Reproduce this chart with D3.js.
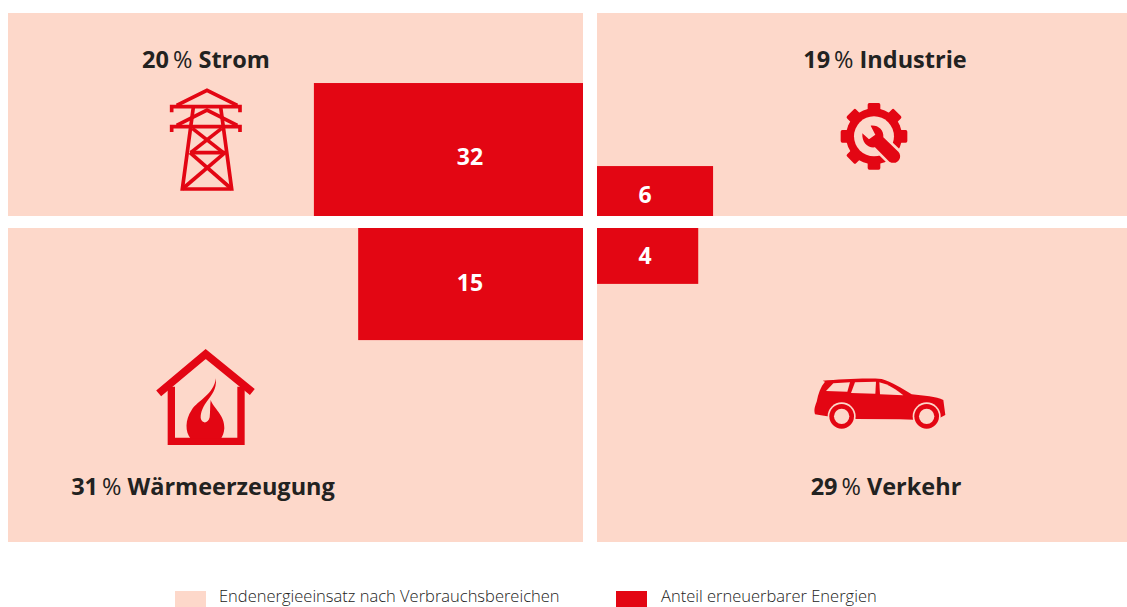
<!DOCTYPE html>
<html lang="de">
<head>
<meta charset="utf-8">
<title>Erneuerbare Energien nach Verbrauchsbereichen</title>
<script src="https://cdn.jsdelivr.net/npm/d3@7/dist/d3.min.js"></script>
<style>
  html, body { margin: 0; padding: 0; background: #fff; }
  svg { display: block; }
  text { font-family: "Open Sans", "Noto Sans", sans-serif; }
</style>
</head>
<body>
<svg id="chart" width="1127" height="607"></svg>
<script>
// Values
const sectors = ['Strom', 'Wärmeerzeugung', 'Industrie', 'Verkehr']
const energyShare = [20, 31, 19, 29]
const renewableShare = [32, 15, 6, 4]
// The red boxes follow no fixed ratio, so their sides are kept as % of the panel
const renewableWidth = [46.8, 39.1, 21.9, 19.1]
const renewableHeight = [65.5, 35.7, 24.6, 17.8]
const legendLabels = ['Endenergieeinsatz nach Verbrauchsbereichen', 'Anteil erneuerbarer Energien']

const pale = '#fdd8ca'
const red = '#e30613'
const dark = '#222221'

const svg = d3.select('#chart')

// Panels grow outwards from the cross in the middle
const xLeft = d3.scaleLinear().domain([0, 100]).range([583, 8])
const xRight = d3.scaleLinear().domain([0, 100]).range([597, 1127])
const yTop = d3.scaleLinear().domain([0, 100]).range([216, 13])
const yBottom = d3.scaleLinear().domain([0, 100]).range([228, 542])

const panels = sectors.map((name, i) => ({
  name,
  share: energyShare[i],
  renewable: renewableShare[i],
  barW: renewableWidth[i],
  barH: renewableHeight[i],
  x: i < 2 ? xLeft : xRight,
  y: i % 2 === 0 ? yTop : yBottom,
  labelX: [206, 203, 885, 886][i],
  labelY: [68, 495, 68, 495][i],
  numX: i < 2 ? 470 : 645,
  numY: [165, 291, 203, 264][i]
}))

function boxAttrs (sel, w, h) {
  sel
    .attr('x', (d) => Math.min(d.x(0), d.x(w(d))))
    .attr('y', (d) => Math.min(d.y(0), d.y(h(d))))
    .attr('width', (d) => Math.abs(d.x(w(d)) - d.x(0)))
    .attr('height', (d) => Math.abs(d.y(h(d)) - d.y(0)))
}

svg.append('g').selectAll('rect')
  .data(panels)
  .enter()
  .append('rect')
  .attr('fill', pale)
  .call(boxAttrs, () => 100, () => 100)

svg.append('g').selectAll('rect')
  .data(panels)
  .enter()
  .append('rect')
  .attr('fill', red)
  .call(boxAttrs, (d) => d.barW, (d) => d.barH)

svg.append('g').selectAll('text')
  .data(panels)
  .enter()
  .append('text')
  .attr('x', (d) => d.numX)
  .attr('y', (d) => d.numY)
  .attr('text-anchor', 'middle')
  .attr('fill', '#fff')
  .style('font-size', '23px')
  .style('font-weight', 700)
  .text((d) => d.renewable)

// Sector titles, the percent sign is lighter than the rest
const titles = svg.append('g').selectAll('text')
  .data(panels)
  .enter()
  .append('text')
  .attr('x', (d) => d.labelX)
  .attr('y', (d) => d.labelY)
  .attr('text-anchor', 'middle')
  .attr('fill', dark)
  .style('font-size', '23.5px')
  .style('font-weight', 700)

titles.append('tspan').text((d) => d.share + '\u2009')
titles.append('tspan').style('font-weight', 400).text('%')
titles.append('tspan').text((d) => ' ' + d.name)

// Icons, drawn in the coordinates of a 3x crop of the picture
const third = 'scale(0.33333)'

const tower = svg.append('g')
  .attr('transform', 'translate(130,30) ' + third)
  .attr('fill', 'none')
  .attr('stroke', red)
  .attr('stroke-width', 11)

const towerLines = [
  'M125 247V230H330V247',
  'M140 226L231 181L322 226',
  'M125 306V290H330V306',
  'M140 286L231 240L322 286',
  'M190 232L157 477H305L272 232',
  'M180 368H285',
  'M187 295L280 368',
  'M275 295L182 368',
  'M180 368L305 477',
  'M285 368L157 477'
]
tower.selectAll('path').data(towerLines).enter().append('path').attr('d', (d) => d)

const gear = svg.append('g').attr('transform', 'translate(800,40) ' + third)
const gearCentre = [222, 289]
const gearTeeth = d3.range(8).map((i) => i * 45)
gear.append('circle').attr('cx', gearCentre[0]).attr('cy', gearCentre[1]).attr('r', 84).attr('fill', red)
gear.selectAll('rect')
  .data(gearTeeth)
  .enter()
  .append('rect')
  .attr('x', gearCentre[0] - 19)
  .attr('y', gearCentre[1] - 100)
  .attr('width', 38)
  .attr('height', 40)
  .attr('rx', 5)
  .attr('fill', red)
  .attr('transform', (d) => `rotate(${d} ${gearCentre[0]} ${gearCentre[1]})`)
gear.append('circle').attr('cx', gearCentre[0]).attr('cy', gearCentre[1]).attr('r', 60).attr('fill', pale)
const wrench = 'M212 257C235 255 252 270 250 292L295 335C310 352 292 378 268 365L225 322C205 325 185 310 187 280L207 298L226 284Z'
gear.append('path').attr('d', wrench).attr('fill', pale).attr('stroke', pale).attr('stroke-width', 16)
gear.append('path').attr('d', wrench).attr('fill', red)

const house = svg.append('g').attr('transform', 'translate(60,340) ' + third)
house.append('path')
  .attr('d', 'M296 160L437 42L577 156')
  .attr('fill', 'none').attr('stroke', red).attr('stroke-width', 23)
house.append('path')
  .attr('d', 'M334 140V304H543V140')
  .attr('fill', 'none').attr('stroke', red).attr('stroke-width', 22)
house.append('path')
  .attr('d', 'M468 115C470 150 455 165 440 185C425 205 420 225 423 238C428 252 445 250 449 232C451 215 450 195 452 180C460 205 495 225 493 265C492 280 488 288 483 296L392 296C375 275 375 240 395 210C415 180 460 165 468 115Z')
  .attr('fill', red)

const car = svg.append('g').attr('transform', 'translate(800,365) ' + third)
car.append('path')
  .attr('d', 'M68 47C120 43 200 38 245 42C275 50 305 70 335 88C370 92 410 95 430 105L436 150L420 158C380 165 340 165 300 163L170 162C120 160 80 155 45 148C42 135 43 128 50 110C55 85 62 65 75 50Z')
  .attr('fill', red)
const windows = [
  'M78 78L100 55L150 52L142 80Z',
  'M153 84L165 52L228 50L226 86Z',
  'M240 88L238 52C265 58 290 75 310 91Z'
]
car.selectAll('path.window').data(windows).enter().append('path').attr('class', 'window').attr('d', (d) => d).attr('fill', pale)
const wheels = [125, 380]
car.selectAll('circle.arch').data(wheels).enter().append('circle').attr('class', 'arch').attr('cx', (d) => d).attr('cy', 154).attr('r', 42).attr('fill', pale)
car.selectAll('circle.tyre').data(wheels).enter().append('circle').attr('class', 'tyre').attr('cx', (d) => d).attr('cy', 154).attr('r', 37).attr('fill', red)
car.selectAll('circle.hub').data(wheels).enter().append('circle').attr('class', 'hub').attr('cx', (d) => d).attr('cy', 154).attr('r', 23).attr('fill', pale)

// Legend
const legendColours = [pale, red]
const legendX = [175, 616]
const legend = svg.append('g').selectAll('g')
  .data(legendLabels)
  .enter()
  .append('g')
  .attr('transform', (d, i) => `translate(${legendX[i]},591)`)

legend.append('rect')
  .attr('width', 31)
  .attr('height', 16)
  .attr('fill', (d, i) => legendColours[i])

legend.append('text')
  .attr('x', (d, i) => (i === 0 ? 44 : 45))
  .attr('y', 11)
  .attr('fill', dark)
  .style('font-size', '16.5px')
  .style('font-weight', 300)
  .text((d) => d)
</script>
</body>
</html>
